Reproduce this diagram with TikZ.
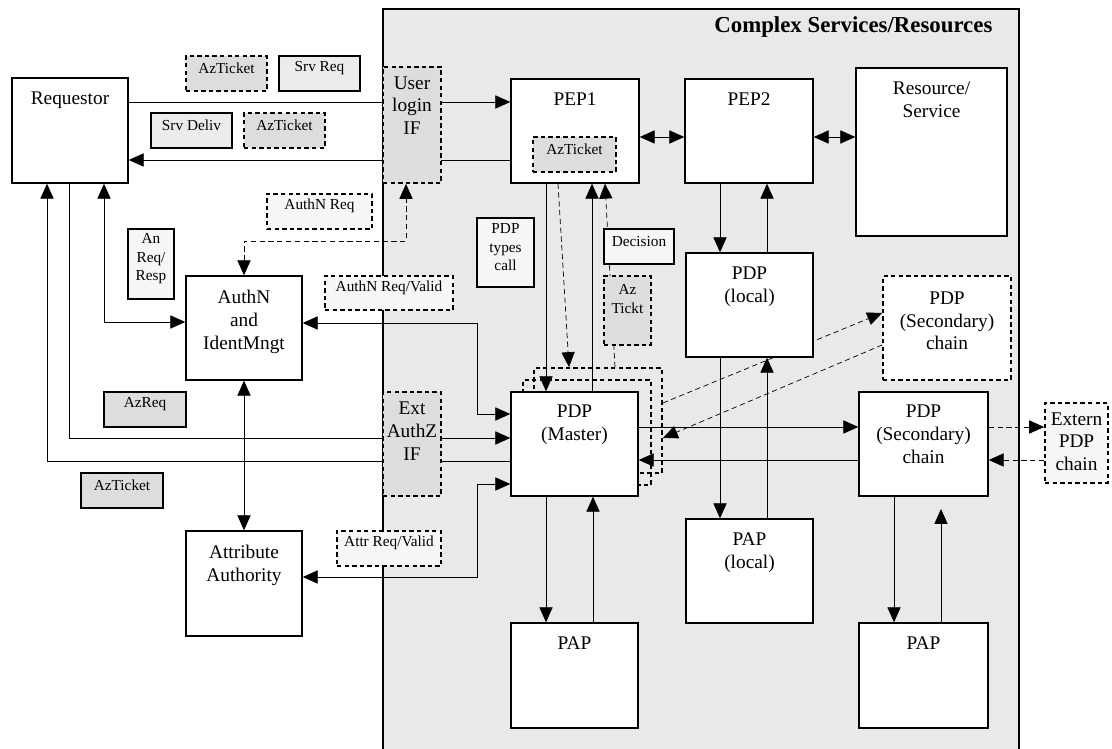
\documentclass[tikz,border=0pt]{standalone}
\usepackage{fontspec}
\setmainfont{Liberation Serif}
\usetikzlibrary{arrows.meta,fit}
\pgfdeclarelayer{bg}
\pgfsetlayers{bg,main}
\definecolor{cplxgray}{RGB}{233,233,233}
\definecolor{tktgray}{RGB}{221,221,221}
\definecolor{msggray}{RGB}{236,236,236}
\definecolor{notegray}{RGB}{246,246,246}
\newcommand\mainfs{\fontsize{11}{13}\selectfont}
\newcommand\smallfs{\fontsize{8.7}{10.5}\selectfont}
\tikzset{
  box/.style={draw, line width=0.8pt, fill=white, inner sep=0pt, align=center},
  dbox/.style={box, line width=1pt, dash pattern=on 2.5pt off 1.8pt},
  msg/.style={box, fill=msggray, font=\smallfs},
  tkt/.style={dbox, fill=tktgray, font=\smallfs},
  stkt/.style={box, fill=tktgray, font=\smallfs},
  note/.style={box, fill=notegray, font=\smallfs},
  dnote/.style={dbox, fill=notegray, font=\smallfs},
  toptext/.style 2 args={label={[anchor=north, align=center, inner sep=0pt, yshift=#1, font=\mainfs]north:{#2}}},
  dsh/.style={dash pattern=on 3pt off 2pt}
}

\begin{document}
\begin{tikzpicture}[x=0.02cm, y=-0.02cm, line width=0.7pt, >={Triangle[length=8.5pt,width=7.5pt]}]
\useasboundingbox (0,0) rectangle (1112,749);

\node[box, fit={(12,78) (128,183)}, toptext={-8pt}{Requestor}] (req) {};
\node[box, fit={(186,276) (302,380)}, toptext={-8pt}{AuthN\\and\\IdentMngt}] (authn) {};
\node[box, fit={(186,531) (302,636)}, toptext={-8pt}{Attribute\\Authority}] (attr) {};
\node[box, fit={(511,79) (639,183)}, toptext={-8pt}{PEP1}] (pep1) {};
\node[box, fit={(685,79) (813,183)}, toptext={-8pt}{PEP2}] (pep2) {};
\node[box, fit={(856,68) (1007,236)}, toptext={-8pt}{Resource/\\Service}] (res) {};
\node[box, fit={(686,253) (813,357)}, toptext={-8pt}{PDP\\(local)}] (pdpl) {};
\node[dbox, fill=none, fit={(534,368) (662,473)}] (mst2) {};
\node[dbox, fill=none, fit={(523,380) (651,485)}] (mst1) {};
\node[box, fit={(511,392) (638,496)}, toptext={-7.5pt}{PDP\\(Master)}] (mst) {};
\node[dbox, fit={(883,276) (1011,380)}, toptext={-9pt}{PDP\\(Secondary)\\chain}] (sec2) {};
\node[box, fit={(859,392) (988,496)}, toptext={-7.5pt}{PDP\\(Secondary)\\chain}] (sec) {};
\node[box, fit={(686,519) (813,623)}, toptext={-8pt}{PAP\\(local)}] (papl) {};
\node[box, fit={(511,623) (638,728)}, toptext={-8pt}{PAP}] (pap1) {};
\node[box, fit={(859,623) (988,728)}, toptext={-8pt}{PAP}] (pap2) {};

\node[tkt, fill=tktgray, fit={(383,67) (441,183)}, toptext={-5.5pt}{User\\login\\IF}] (login) {};
\node[tkt, fill=tktgray, fit={(383,392) (441,496)}, toptext={-6pt}{Ext\\AuthZ\\IF}] (extif) {};
\node[dnote, fit={(1045,403) (1108,483)}, toptext={-5.5pt}{Extern\\PDP\\chain}] (ext) {};

\node[tkt, fit={(186,56) (267,91)}] (tkt1) {AzTicket};
\node[msg, fit={(279,56) (360,91)}] (srvreq) {Srv Req};
\node[msg, fit={(151,113) (232,148)}] (srvdlv) {Srv Deliv};
\node[tkt, fit={(244,113) (325,148)}] (tkt2) {AzTicket};
\node[tkt, fit={(533,137) (616,172)}] (tktpep) {AzTicket};
\node[dnote, fit={(267,194) (372,229)}] (anreq) {AuthN Req};
\node[note, fit={(128,229) (174,299)}] (anrsp) {An\\Req/\\Resp};
\node[dnote, fit={(325,276) (453,310)}] (anval) {AuthN Req/Valid};
\node[stkt, fit={(104,392) (186,427)}] (azreq) {AzReq};
\node[stkt, fit={(81,473) (163,508)}] (tkt3) {AzTicket};
\node[dnote, fit={(337,531) (441,566)}] (atval) {Attr Req/Valid};
\node[note, fit={(477,218) (534,287)}] (pdpcall) {PDP\\types\\call};
\node[note, fit={(604,229) (674,264)}] (dec) {Decision};
\node[tkt, fit={(604,276) (651,345)}, label={[anchor=north, align=center, inner sep=0pt, yshift=-5pt, font=\smallfs]north:{Az\\Tickt}}] (tkt4) {};

\node[anchor=base east, inner sep=0pt, font=\bfseries\fontsize{13}{15}\selectfont] (ttl) at (993,33) {Complex Services/Resources};
\coordinate (secup) at (941,509);

\begin{pgfonlayer}{bg}
\node[draw, line width=0.8pt, fill=cplxgray, inner sep=0pt, fit={(383,9) (1019,770)}] (cplx) {};

\draw[->] (req.east |- 0,102) -- (pep1.west |- 0,102);
\draw[->] (pep1.west |- 0,160) -- (req.east |- 0,160);
\draw[<->] (pep1.east |- 0,137) -- (pep2.west |- 0,137);
\draw[<->] (pep2.east |- 0,137) -- (res.west |- 0,137);

\draw[<->, dsh] (authn.north) |- (406,241) -- (login.south -| 406,0);
\draw[<->] (req.south -| 104,0) |- (authn.west |- 0,322);
\draw[->] (req.south -| 69,0) |- (mst.west |- 0,438);
\draw[->] (mst.west |- 0,461) -| (req.south -| 47,0);
\draw[<->] (authn.east |- 0,323) -| (477,414) -- (mst.west |- 0,414);
\draw[<->] (authn.south) -- (attr.north);
\draw[<->] (attr.east |- 0,577) -| (477,484) -- (mst.west |- 0,484);

\foreach \a/\b/\x in {pep1/mst/546, pep2/pdpl/720, pdpl/papl/720, mst/pap1/546, sec/pap2/894}
  \draw[->] (\a.south -| \x,0) -- (\b.north -| \x,0);
\foreach \a/\b/\x in {mst/pep1/592, pdpl/pep2/767, papl/pdpl/767, pap1/mst/593}
  \draw[->] (\a.north -| \x,0) -- (\b.south -| \x,0);
\draw[->] (pap2.north -| 941,0) -- (secup);

\draw[->, dsh] (pep1.south -| 558,0) -- (mst2.north -| 569,0);
\draw[->, dsh] (mst2.north -| 615,0) -- (pep1.south -| 605,0);

\draw[->] (mst.east |- 0,427) -- (sec.west |- 0,427);
\draw[->] (sec.west |- 0,460) -- (mst.east |- 0,460);
\draw[->, dsh] (mst2.east |- 0,403) -- (sec2.west |- 0,313);
\draw[->, dsh] (sec2.west |- 0,345) -- (mst2.east |- 0,438);
\draw[->, dsh] (sec.east |- 0,427) -- (ext.west |- 0,427);
\draw[->, dsh] (ext.west |- 0,460) -- (sec.east |- 0,460);
\end{pgfonlayer}

\end{tikzpicture}
\end{document}
